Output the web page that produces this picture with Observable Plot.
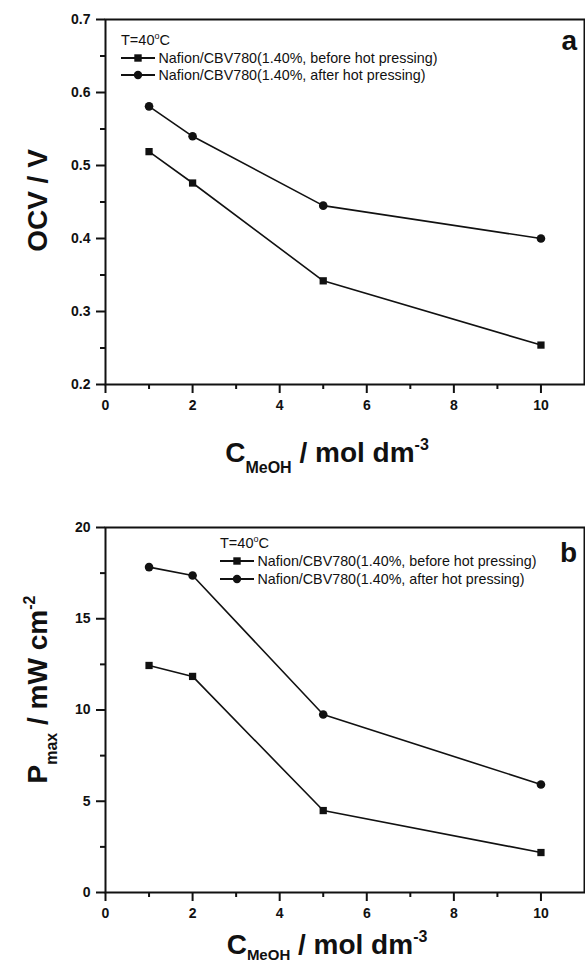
<!DOCTYPE html>
<html>
<head>
<meta charset="utf-8">
<script src="https://cdn.jsdelivr.net/npm/d3@7"></script>
<script src="https://cdn.jsdelivr.net/npm/@observablehq/plot@0.6"></script>
<style>
  html, body { margin: 0; padding: 0; background: #fff; }
  #chart { width: 585px; }
  #chart svg { display: block; }
</style>
</head>
<body>
<div id="chart"></div>
<script>
// ---- data ----
const concentrations = [1, 2, 5, 10];
const seriesNames = [
  "Nafion/CBV780(1.40%, before hot pressing)",
  "Nafion/CBV780(1.40%, after hot pressing)"
];
const ocvBefore = [0.519, 0.476, 0.342, 0.254];
const ocvAfter  = [0.581, 0.540, 0.445, 0.400];
const pmaxBefore = [12.44, 11.84, 4.49, 2.19];
const pmaxAfter  = [17.83, 17.37, 9.75, 5.92];

const xMajorTicks = [0, 2, 4, 6, 8, 10];
const xMinorTicks = [1, 3, 5, 7, 9];
const ocvMajorTicks = [0.2, 0.3, 0.4, 0.5, 0.6, 0.7];
const ocvMinorTicks = [0.25, 0.35, 0.45, 0.55, 0.65];
const pmaxMajorTicks = [0, 5, 10, 15, 20];
const pmaxMinorTicks = [2.5, 7.5, 12.5, 17.5];
const temperatureLabel = "T=40";

const FONT = "'Liberation Sans', Arial, Helvetica, sans-serif";
const W = 585;

function rows(before, after) {
  const out = [];
  concentrations.forEach((c, i) => out.push({c, v: before[i], s: seriesNames[0]}));
  concentrations.forEach((c, i) => out.push({c, v: after[i], s: seriesNames[1]}));
  return out;
}

function panel(opts) {
  const data = rows(opts.before, opts.after);
  const plot = Plot.plot({
    width: W,
    height: opts.height,
    marginLeft: 105,
    marginRight: 1,
    marginTop: opts.marginTop,
    marginBottom: opts.marginBottom,
    style: {background: "#fff", color: "#111", fontFamily: FONT, overflow: "visible"},
    x: {domain: [0, 11]},
    y: {domain: opts.yDomain},
    marks: [
      Plot.axisX({ticks: xMajorTicks, tickSize: 9, tickPadding: 7, strokeWidth: 2,
        fontSize: 14, fontWeight: "bold", label: null, tickFormat: d => String(d)}),
      Plot.axisX({ticks: xMinorTicks, tickSize: 5, strokeWidth: 2, text: null, label: null}),
      Plot.axisY({ticks: opts.yMajor, tickSize: 9, tickPadding: 6, strokeWidth: 2,
        fontSize: 14, fontWeight: "bold", label: null, tickFormat: opts.fmt}),
      Plot.axisY({ticks: opts.yMinor, tickSize: 5, strokeWidth: 2, text: null, label: null}),
      Plot.frame({stroke: "#111", strokeWidth: 2}),
      Plot.line(data, {x: "c", y: "v", z: "s", stroke: "#111", strokeWidth: 1.6}),
      Plot.dot(data.filter(d => d.s === seriesNames[0]), {x: "c", y: "v", symbol: "square", r: 4.1, fill: "#111", stroke: "none"}),
      Plot.dot(data.filter(d => d.s === seriesNames[1]), {x: "c", y: "v", symbol: "circle", r: 4.3, fill: "#111", stroke: "none"})
    ]
  });

  const svg = d3.select(plot);
  const top = opts.marginTop, bottom = opts.height - opts.marginBottom;
  const g = svg.append("g").attr("font-family", FONT).attr("fill", "#111").attr("text-anchor", "start");

  // panel letter
  g.append("text").attr("x", 577).attr("y", top + opts.letterDy)
    .attr("text-anchor", "end").attr("font-size", 28).attr("font-weight", "bold")
    .text(opts.letter);

  // legend
  const lx = opts.legendX;
  const t = g.append("text").attr("x", lx).attr("y", top + opts.legendDy[0])
    .attr("font-size", 14.5).attr("text-anchor", "start");
  t.append("tspan").text(temperatureLabel);
  t.append("tspan").attr("font-size", 9).attr("dy", -6).text("o");
  t.append("tspan").attr("dy", 6).text("C");
  seriesNames.forEach((name, i) => {
    const by = top + opts.legendDy[i + 1];
    const cy = by - 5;
    g.append("line").attr("x1", lx).attr("x2", lx + 34).attr("y1", cy).attr("y2", cy)
      .attr("stroke", "#111").attr("stroke-width", 1.8);
    if (i === 0) {
      g.append("rect").attr("x", lx + 17 - 3.7).attr("y", cy - 3.7).attr("width", 7.4).attr("height", 7.4);
    } else {
      g.append("circle").attr("cx", lx + 17).attr("cy", cy).attr("r", 4.2);
    }
    g.append("text").attr("x", lx + 37.5).attr("y", by).attr("font-size", 14.3)
      .attr("text-anchor", "start").text(name);
  });

  // x label
  const xl = g.append("text").attr("x", 327).attr("y", bottom + opts.xLabelDy)
    .attr("text-anchor", "middle").attr("font-size", 28).attr("font-weight", "bold");
  xl.append("tspan").text("C");
  xl.append("tspan").attr("font-size", opts.subSize).attr("dy", opts.subDy).text("MeOH");
  xl.append("tspan").attr("dy", -opts.subDy).text(" / mol dm");
  xl.append("tspan").attr("font-size", 16).attr("dy", -12).text("-3");

  // y label
  const cyMid = (top + bottom) / 2 + opts.yLabelShift;
  const yl = g.append("text").attr("transform", `translate(${opts.yLabelX},${cyMid}) rotate(-90)`)
    .attr("text-anchor", "middle").attr("font-size", 28).attr("font-weight", "bold");
  opts.yLabel(yl);
  return plot;
}

const root = document.getElementById("chart");
root.appendChild(panel({
  height: 482, marginTop: 19, marginBottom: 98,
  before: ocvBefore, after: ocvAfter,
  yDomain: [0.2, 0.7], yMajor: ocvMajorTicks, yMinor: ocvMinorTicks,
  fmt: d3.format(".1f"),
  letter: "a", letterDy: 31,
  legendX: 121, legendDy: [26, 44, 61],
  xLabelDy: 78, subDy: 11, subSize: 16,
  yLabelX: 47, yLabelShift: -1,
  yLabel: sel => sel.append("tspan").text("OCV / V")
}));
root.appendChild(panel({
  height: 482, marginTop: 45, marginBottom: 72,
  before: pmaxBefore, after: pmaxAfter,
  yDomain: [0, 20], yMajor: pmaxMajorTicks, yMinor: pmaxMinorTicks,
  fmt: d => String(d),
  letter: "b", letterDy: 35,
  legendX: 220, legendDy: [21, 39, 57],
  xLabelDy: 62, subDy: 6, subSize: 15,
  yLabelX: 47, yLabelShift: -20,
  yLabel: sel => {
    sel.append("tspan").text("P");
    sel.append("tspan").attr("font-size", 16).attr("dy", 10).text("max");
    sel.append("tspan").attr("dy", -10).text(" / mW cm");
    sel.append("tspan").attr("font-size", 16).attr("dy", -12).text("-2");
  }
}));
</script>
</body>
</html>
